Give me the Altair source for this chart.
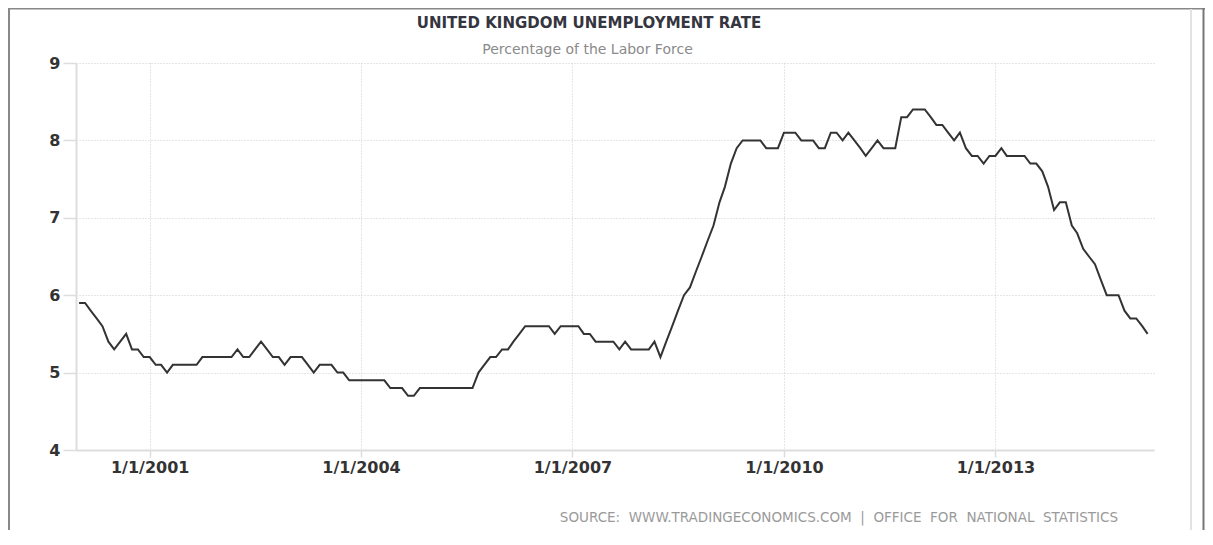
import altair as alt
import pandas as pd

# UK unemployment rate, monthly, Jan 2000 - Mar 2015
RATE = [
    5.9, 5.9, 5.8, 5.7, 5.6, 5.4, 5.3, 5.4, 5.5, 5.3, 5.3, 5.2,   # 2000
    5.2, 5.1, 5.1, 5.0, 5.1, 5.1, 5.1, 5.1, 5.1, 5.2, 5.2, 5.2,   # 2001
    5.2, 5.2, 5.2, 5.3, 5.2, 5.2, 5.3, 5.4, 5.3, 5.2, 5.2, 5.1,   # 2002
    5.2, 5.2, 5.2, 5.1, 5.0, 5.1, 5.1, 5.1, 5.0, 5.0, 4.9, 4.9,   # 2003
    4.9, 4.9, 4.9, 4.9, 4.9, 4.8, 4.8, 4.8, 4.7, 4.7, 4.8, 4.8,   # 2004
    4.8, 4.8, 4.8, 4.8, 4.8, 4.8, 4.8, 4.8, 5.0, 5.1, 5.2, 5.2,   # 2005
    5.3, 5.3, 5.4, 5.5, 5.6, 5.6, 5.6, 5.6, 5.6, 5.5, 5.6, 5.6,   # 2006
    5.6, 5.6, 5.5, 5.5, 5.4, 5.4, 5.4, 5.4, 5.3, 5.4, 5.3, 5.3,   # 2007
    5.3, 5.3, 5.4, 5.2, 5.4, 5.6, 5.8, 6.0, 6.1, 6.3, 6.5, 6.7,   # 2008
    6.9, 7.2, 7.4, 7.7, 7.9, 8.0, 8.0, 8.0, 8.0, 7.9, 7.9, 7.9,   # 2009
    8.1, 8.1, 8.1, 8.0, 8.0, 8.0, 7.9, 7.9, 8.1, 8.1, 8.0, 8.1,   # 2010
    8.0, 7.9, 7.8, 7.9, 8.0, 7.9, 7.9, 7.9, 8.3, 8.3, 8.4, 8.4,   # 2011
    8.4, 8.3, 8.2, 8.2, 8.1, 8.0, 8.1, 7.9, 7.8, 7.8, 7.7, 7.8,   # 2012
    7.8, 7.9, 7.8, 7.8, 7.8, 7.8, 7.7, 7.7, 7.6, 7.4, 7.1, 7.2,   # 2013
    7.2, 6.9, 6.8, 6.6, 6.5, 6.4, 6.2, 6.0, 6.0, 6.0, 5.8, 5.7,   # 2014
    5.7, 5.6, 5.5,                                                 # 2015
]
START_MONTH = "2000-01-01"
TICK_YEARS = [2001, 2004, 2007, 2010, 2013]
Y_TICKS = [4, 5, 6, 7, 8, 9]

TITLE = "UNITED KINGDOM UNEMPLOYMENT RATE"
SUBTITLE = "Percentage of the Labor Force"
SOURCE = "SOURCE:\u00a0\u00a0WWW.TRADINGECONOMICS.COM\u00a0\u00a0|\u00a0\u00a0OFFICE\u00a0\u00a0FOR\u00a0\u00a0NATIONAL\u00a0\u00a0STATISTICS"

df = pd.DataFrame({
    "date": pd.date_range(START_MONTH, periods=len(RATE), freq="MS"),
    "rate": RATE,
})
one = pd.DataFrame({"k": [0]})

FONT = "DejaVu Sans"

x_enc = alt.X(
    "date:T",
    scale=alt.Scale(domain=[alt.DateTime(year=1999, month=12, date=16),
                            alt.DateTime(year=2015, month=4, date=3)]),
    axis=alt.Axis(
        values=[alt.DateTime(year=y, month=1, date=1) for y in TICK_YEARS],
        format="%-m/%-d/%Y",
        title=None,
        tickSize=7,
        labelPadding=2,
    ),
)
y_enc = alt.Y(
    "rate:Q",
    scale=alt.Scale(domain=[4, 9], nice=False, zero=False),
    axis=alt.Axis(values=Y_TICKS, title=None, tickSize=13, labelPadding=3),
)

line = alt.Chart(df).mark_line(color="#333333", strokeWidth=2, interpolate="linear").encode(
    x=x_enc, y=y_enc
)

def rule(x, x2, y, y2, color, width):
    return alt.Chart(one).mark_rule(color=color, strokeWidth=width).encode(
        x=alt.value(x), x2=alt.value(x2), y=alt.value(y), y2=alt.value(y2)
    )

frame_top = rule(-68, 1129, -54.5, -54.5, "#888888", 2)
frame_left = rule(-67, -67, -55, 470, "#888888", 2)
frame_right = rule(1127.5, 1127.5, -55, 470, "#777777", 2)
frame_inner = rule(1115, 1115, -54, 470, "#e2e2e2", 2)

def text(label, x, y, size, color, weight="normal", align="center"):
    return alt.Chart(pd.DataFrame({"t": [label]})).mark_text(
        font=FONT, fontSize=size, fontWeight=weight, color=color,
        align=align, baseline="alphabetic",
    ).encode(x=alt.value(x), y=alt.value(y), text="t:N")

title = text(TITLE, 513, -35, 15, "#353540", "bold")
subtitle = text(SUBTITLE, 511.5, -9.5, 14, "#8a8a8a")
source = text(SOURCE, 1042, 459, 13.5, "#9a9a9a", align="right")

chart = alt.layer(
    frame_top, frame_left, frame_right, frame_inner,
    line, title, subtitle, source,
).properties(
    width=1078,
    height=387,
    autosize=alt.AutoSizeParams(type="none"),
    padding={"left": 68, "top": 55, "right": 51, "bottom": 80},
).configure_view(
    stroke=None
).configure_axis(
    domainColor="#dddddd",
    domainWidth=2,
    tickColor="#dddddd",
    tickWidth=1.5,
    gridColor="#cccccc",
    gridDash=[1, 2],
    gridWidth=1,
    labelFont=FONT,
    labelFontSize=16,
    labelFontWeight="bold",
    labelColor="#333333",
)

chart.save("out.html", embed_options={"renderer": "svg", "actions": False})
